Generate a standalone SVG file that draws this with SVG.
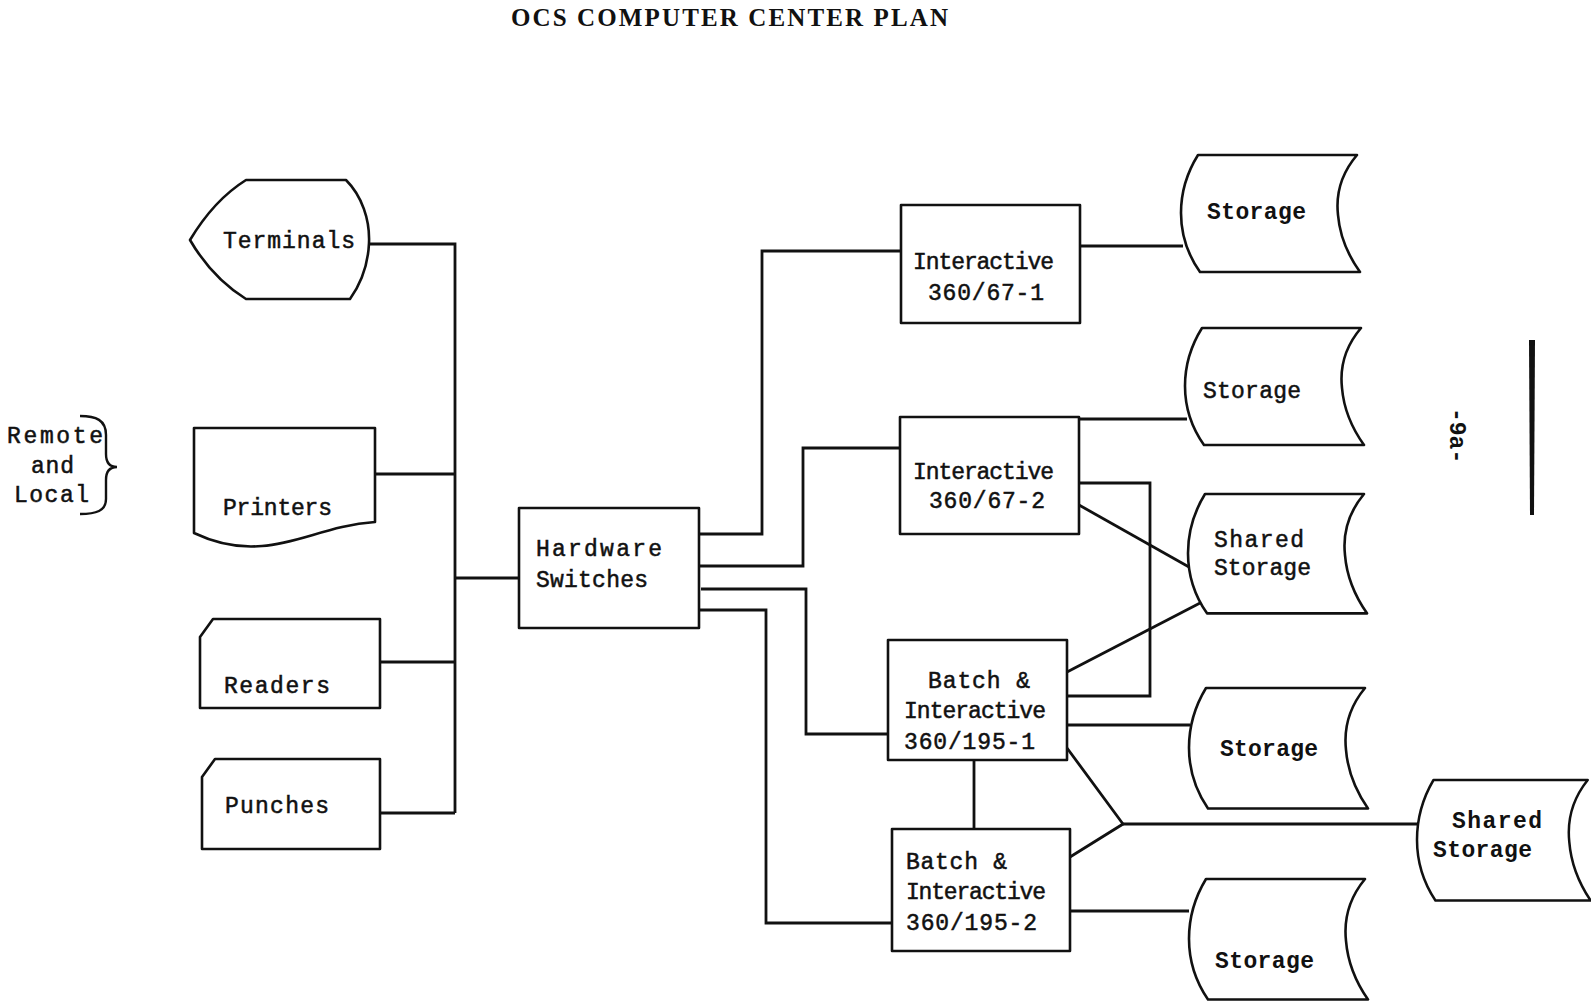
<svg xmlns="http://www.w3.org/2000/svg" width="1591" height="1002" viewBox="0 0 1591 1002">
<style>
.shape{fill:#fff;stroke:#111;stroke-width:2.6;stroke-linejoin:round}
.conn{fill:none;stroke:#111;stroke-width:2.8;stroke-linejoin:miter}
.t{font-family:"Liberation Mono","Courier New",monospace;font-size:23px;fill:#111;stroke:#111;stroke-width:0.5}
.tb{font-family:"Liberation Mono","Courier New",monospace;font-size:23px;font-weight:bold;fill:#111}
.title{font-family:"Liberation Serif","Times New Roman",serif;font-size:25px;font-weight:bold;fill:#111}
</style>
<defs>
<path id="stor" d="M17,0 L176,0 C159,20 155,42 157,60 C159,84 169,103 179,117 L19,117 C7,100 0,80 0,58 C0,36 7,16 17,0 Z"/>
</defs>
<rect width="1591" height="1002" fill="#fff"/>
<text class="title" x="511" y="26" textLength="437" lengthAdjust="spacing">OCS COMPUTER CENTER PLAN</text>

<g id="remote-local">
<text class="t" x="7" y="443" font-size="25" textLength="96" lengthAdjust="spacing">Remote</text>
<text class="t" x="31" y="473" font-size="25" textLength="43" lengthAdjust="spacing">and</text>
<text class="t" x="14" y="502" font-size="25" textLength="75" lengthAdjust="spacing">Local</text>
<path d="M80,416 C96,416 106,420 106,435 L106,454 C106,463 110,467 117,467 C110,467 106,471 106,480 L106,499 C106,511 96,514 80,514" fill="none" stroke="#111" stroke-width="2.4"/>
</g>

<g id="connectors">
<path class="conn" d="M368,244 H455 V813"/>
<path class="conn" d="M375,474 H455"/>
<path class="conn" d="M380,662 H455"/>
<path class="conn" d="M380,813 H455"/>
<path class="conn" d="M455,578 H519"/>
<path class="conn" d="M699,534 H762 V251 H901"/>
<path class="conn" d="M699,566 H803 V448 H900"/>
<path class="conn" d="M701,589 H806 V734 H888"/>
<path class="conn" d="M699,610 H766 V923 H892"/>
<path class="conn" d="M1080,246 H1183"/>
<path class="conn" d="M1079,419 H1187"/>
<path class="conn" d="M1079,505 L1189,567"/>
<path class="conn" d="M1079,483 H1150 V696 H1067"/>
<path class="conn" d="M1067,672 L1202,602"/>
<path class="conn" d="M1067,725 H1190"/>
<path class="conn" d="M1067,748 L1123,824 L1070,857"/>
<path class="conn" d="M1123,824 H1419"/>
<path class="conn" d="M974,760 V829"/>
<path class="conn" d="M1070,911 H1189"/>
</g>

<g id="terminals">
<path class="shape" d="M190,240 C205,215 222,195 246,180 L346,180 C362,196 370,220 369,243 C368,266 360,285 350,299 L246,299 C222,284 204,264 190,240 Z"/>
<text class="t" x="223" y="248" font-size="24" textLength="132" lengthAdjust="spacing">Terminals</text>
</g>
<g id="printers">
<path class="shape" d="M194,428 L375,428 L375,522 C330,525 300,543 262,546 C240,548 215,543 194,533 Z"/>
<text class="t" x="223" y="515" textLength="109" lengthAdjust="spacing">Printers</text>
</g>
<g id="readers">
<path class="shape" d="M213,619 L380,619 L380,708 L200,708 L200,637 Z"/>
<text class="t" x="224" y="693" textLength="106" lengthAdjust="spacing">Readers</text>
</g>
<g id="punches">
<path class="shape" d="M215,759 L380,759 L380,849 L202,849 L202,777 Z"/>
<text class="t" x="225" y="813" textLength="104" lengthAdjust="spacing">Punches</text>
</g>
<g id="hardware-switches">
<rect class="shape" x="519" y="508" width="180" height="120"/>
<text class="t" x="536" y="556" textLength="126" lengthAdjust="spacing">Hardware</text>
<text class="t" x="536" y="587" textLength="112" lengthAdjust="spacing">Switches</text>
</g>
<g id="interactive-1">
<rect class="shape" x="901" y="205" width="179" height="118"/>
<text class="t" x="913" y="269" font-size="21" textLength="141" lengthAdjust="spacing">Interactive</text>
<text class="t" x="928" y="300" font-size="21" textLength="116" lengthAdjust="spacing">360/67-1</text>
</g>
<g id="interactive-2">
<rect class="shape" x="900" y="417" width="179" height="117"/>
<text class="t" x="913" y="479" font-size="21" textLength="141" lengthAdjust="spacing">Interactive</text>
<text class="t" x="929" y="508" font-size="21" textLength="116" lengthAdjust="spacing">360/67-2</text>
</g>
<g id="batch-1">
<rect class="shape" x="888" y="640" width="179" height="120"/>
<text class="t" x="928" y="688" font-size="21" textLength="102" lengthAdjust="spacing">Batch &amp;</text>
<text class="t" x="904" y="718" font-size="21" textLength="142" lengthAdjust="spacing">Interactive</text>
<text class="t" x="904" y="749" font-size="21" textLength="131" lengthAdjust="spacing">360/195-1</text>
</g>
<g id="batch-2">
<rect class="shape" x="892" y="829" width="178" height="122"/>
<text class="t" x="906" y="869" font-size="21" textLength="101" lengthAdjust="spacing">Batch &amp;</text>
<text class="t" x="906" y="899" font-size="21" textLength="140" lengthAdjust="spacing">Interactive</text>
<text class="t" x="906" y="930" font-size="21" textLength="131" lengthAdjust="spacing">360/195-2</text>
</g>
<g id="storage-1">
<use href="#stor" class="shape" transform="translate(1181,155)"/>
<text class="tb" x="1207" y="219" textLength="99" lengthAdjust="spacing">Storage</text>
</g>
<g id="storage-2">
<use href="#stor" class="shape" transform="translate(1185,328)"/>
<text class="t" x="1203" y="398" textLength="98" lengthAdjust="spacing">Storage</text>
</g>
<g id="shared-storage-1">
<use href="#stor" class="shape" transform="translate(1188,494) scale(1,1.02)"/>
<text class="t" x="1214" y="547" textLength="90" lengthAdjust="spacing">Shared</text>
<text class="t" x="1214" y="575" textLength="97" lengthAdjust="spacing">Storage</text>
</g>
<g id="storage-3">
<use href="#stor" class="shape" transform="translate(1189,688) scale(1,1.03)"/>
<text class="tb" x="1220" y="756" textLength="98" lengthAdjust="spacing">Storage</text>
</g>
<g id="storage-4">
<use href="#stor" class="shape" transform="translate(1189,879) scale(1,1.03)"/>
<text class="tb" x="1215" y="968" textLength="99" lengthAdjust="spacing">Storage</text>
</g>
<g id="shared-storage-2">
<use href="#stor" class="shape" transform="translate(1417,780) scale(0.97,1.03)"/>
<text class="tb" x="1452" y="828" textLength="90" lengthAdjust="spacing">Shared</text>
<text class="tb" x="1433" y="857" textLength="99" lengthAdjust="spacing">Storage</text>
</g>

<text class="tb" x="1450" y="408" font-size="20" transform="rotate(90 1450 408)">-9a-</text>
<path d="M1529,340 L1535,340 L1534,515 L1530,515 Z" fill="#111"/>
</svg>
